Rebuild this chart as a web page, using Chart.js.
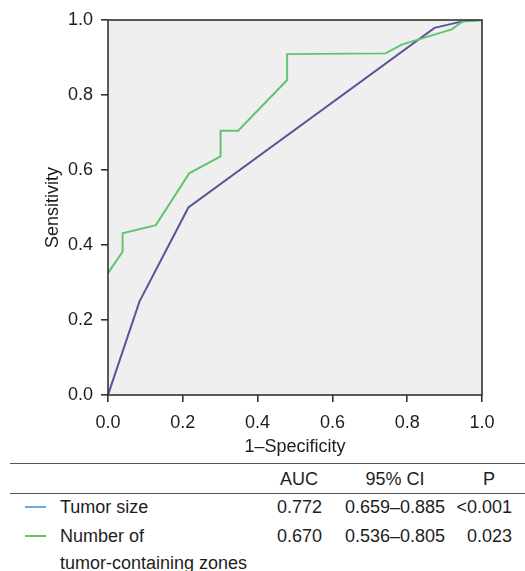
<!DOCTYPE html>
<html>
<head>
<meta charset="utf-8">
<script src="https://cdn.jsdelivr.net/npm/chart.js@4.4.1/dist/chart.umd.min.js"></script>
<style>
    body { margin: 0; background: #fff; font-family: "Liberation Sans", Arial, sans-serif; color: #1f1c1d; }
    #wrap { position: relative; width: 525px; height: 571px; }
    #chartBox { position: absolute; left: 0; top: 0; width: 525px; height: 458px; }
    .txt { position: absolute; font-size: 18px; white-space: nowrap; line-height: 1; }
    .rule { position: absolute; left: 10px; right: 0; height: 0; border-top: 1.5px solid #555; }
    .key { position: absolute; left: 25px; width: 21px; height: 0; border-top: 2px solid; }
</style>
</head>
<body>
<div id="wrap">
    <div id="chartBox"><canvas id="rocChart"></canvas></div>
    <div id="table"></div>
</div>
<script>
/// DATA ///

// Tumor size curve (1-specificity, sensitivity)
const tumorSizeX = [0, 0.084, 0.215, 0.873, 0.95, 1];
const tumorSizeY = [0, 0.249, 0.50, 0.979, 0.997, 1];

// Number of tumor-containing zones curve
const zonesX = [0, 0.039, 0.039, 0.128, 0.217, 0.301, 0.301, 0.348, 0.479, 0.479, 0.742, 0.787, 0.919, 0.946, 1];
const zonesY = [0.325, 0.382, 0.431, 0.453, 0.591, 0.636, 0.705, 0.705, 0.84, 0.909, 0.911, 0.935, 0.975, 0.995, 1];

const tickValues = [0, 0.2, 0.4, 0.6, 0.8, 1.0];

// Table under the chart
const seriesNames = ['Tumor size', 'Number of'];
const seriesNamesExtra = ['', 'tumor-containing zones'];
const keyColors = ['#6fa8dc', '#6abf5e'];
const aucValues = ['0.772', '0.670'];
const ciValues = ['0.659–0.885', '0.536–0.805'];
const pValues = ['<0.001', '0.023'];


/// CHART ///

const toPoints = (xs, ys) => xs.map((x, i) => ({ x: x, y: ys[i] }));

// gray plot background + box border
const plotBoxPlugin = {
    id: 'plotBox',
    beforeDraw(chart) {
        const { ctx, chartArea: a } = chart;
        ctx.save();
        ctx.fillStyle = '#efefef';
        ctx.fillRect(a.left, a.top, a.right - a.left, a.bottom - a.top);
        ctx.restore();
    },
    afterDraw(chart) {
        const { ctx, chartArea: a } = chart;
        ctx.save();
        ctx.strokeStyle = '#333';
        ctx.lineWidth = 1.6;
        ctx.strokeRect(a.left, a.top, a.right - a.left, a.bottom - a.top);
        ctx.restore();
    }
};

const axisFont = { family: '"Liberation Sans", Arial, sans-serif', size: 18 };

const config = {
    type: 'scatter',
    plugins: [plotBoxPlugin],
    data: {
        datasets: [{
            label: 'Number of tumor-containing zones',
            data: toPoints(zonesX, zonesY),
            showLine: true,
            borderColor: '#62c473',
            borderWidth: 2,
            pointRadius: 0,
            tension: 0
        }, {
            label: 'Tumor size',
            data: toPoints(tumorSizeX, tumorSizeY),
            showLine: true,
            borderColor: '#55579a',
            borderWidth: 2,
            pointRadius: 0,
            tension: 0
        }]
    },
    options: {
        responsive: true,
        maintainAspectRatio: false,
        animation: false,
        layout: { padding: { top: 20, right: 43, bottom: 0, left: 0 } },
        scales: {
            x: {
                type: 'linear',
                min: 0,
                max: 1,
                afterBuildTicks: axis => { axis.ticks = tickValues.map(v => ({ value: v })); },
                afterFit: axis => { axis.height = 63; },
                ticks: {
                    color: '#1f1c1d',
                    font: axisFont,
                    padding: 10,
                    maxRotation: 0,
                    callback: v => v.toFixed(1)
                },
                grid: { drawOnChartArea: false, tickLength: 7, color: '#333', lineWidth: 1.6 },
                border: { display: false },
                title: { display: true, text: '1–Specificity', color: '#1f1c1d', font: axisFont, padding: { top: 0, bottom: 0 } }
            },
            y: {
                type: 'linear',
                min: 0,
                max: 1,
                afterBuildTicks: axis => { axis.ticks = tickValues.map(v => ({ value: v })); },
                afterFit: axis => { axis.width = 108; },
                ticks: {
                    color: '#1f1c1d',
                    font: axisFont,
                    padding: 8,
                    callback: v => v.toFixed(1)
                },
                grid: { drawOnChartArea: false, tickLength: 7, color: '#333', lineWidth: 1.6 },
                border: { display: false },
                title: { display: true, text: 'Sensitivity', color: '#1f1c1d', font: axisFont, padding: { top: 42, bottom: 0 } }
            }
        },
        plugins: {
            legend: { display: false },
            tooltip: { enabled: false }
        }
    }
};

const ctx = document.getElementById('rocChart').getContext('2d');
const myChart = new Chart(ctx, config);


/// TABLE ///

const table = document.getElementById('table');

function addText(text, x, y, align) {
    const el = document.createElement('div');
    el.className = 'txt';
    el.textContent = text;
    el.style.left = x + 'px';
    el.style.top = y + 'px';
    // align: 'left', 'center' or 'right' relative to x; y is the vertical middle
    const tx = align === 'center' ? '-50%' : (align === 'right' ? '-100%' : '0');
    el.style.transform = `translate(${tx}, -50%)`;
    table.appendChild(el);
}

function addRule(y) {
    const el = document.createElement('div');
    el.className = 'rule';
    el.style.top = y + 'px';
    table.appendChild(el);
}

addRule(463);
addRule(493);

addText('AUC', 299, 479, 'center');
addText('95% CI', 395, 479, 'center');
addText('P', 489, 479, 'center');

const rowY = [507, 536];
seriesNames.forEach((name, i) => {
    const key = document.createElement('div');
    key.className = 'key';
    key.style.top = (rowY[i] - 1) + 'px';
    key.style.borderColor = keyColors[i];
    table.appendChild(key);

    addText(name, 60, rowY[i], 'left');
    if (seriesNamesExtra[i]) addText(seriesNamesExtra[i], 60, rowY[i] + 27, 'left');
    addText(aucValues[i], 322, rowY[i], 'right');
    addText(ciValues[i], 395, rowY[i], 'center');
    addText(pValues[i], 512, rowY[i], 'right');
});
</script>
</body>
</html>
